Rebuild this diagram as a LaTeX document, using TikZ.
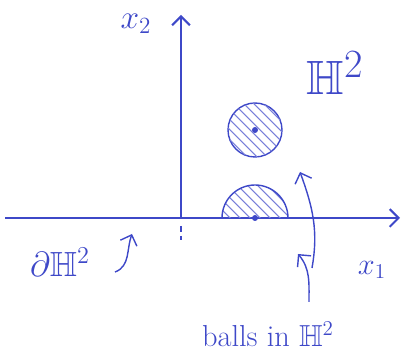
\documentclass[tikz,border=0pt]{standalone}
\usepackage{amsmath}
\usepackage{amssymb}
\usetikzlibrary{arrows.meta}
\definecolor{ink}{RGB}{62,72,200}
\begin{document}
\begin{tikzpicture}[x=0.02cm, y=0.02cm,
  axis/.style={draw=ink, line width=1.2pt, -{Straight Barb[length=5pt]}},
  ball/.style={circle, draw=ink, line width=0.8pt, minimum size=1.08cm},
  hatch/.style={draw=ink!70, line width=0.6pt},
  ctr/.style={circle, fill=ink, inner sep=1.2pt},
  lbl/.style={text=ink, font=\LARGE},
  arr/.style={->, line width=0.8pt, draw=ink, >={Straight Barb[length=5pt]}}
]
  \useasboundingbox (0,0) rectangle (403,358);
  % axes
  \coordinate (west) at (5,140);
  \coordinate (east) at (400,140);
  \coordinate (orig) at (181,140);
  \coordinate (north) at (181,343);
  \draw[axis] (west) -- (east);
  \draw[axis] (orig) -- (north);
  \draw[ink, line width=0.8pt] (orig) ++(0,-8) -- ++(0,-6) ++(0,-4) -- ++(0,-4);
  \node[lbl, scale=1.1] (xtwo) at (136,334) {$x_2$};
  \node[lbl] (xone) at (372,88) {$x_1$};
  \node[text=ink, font=\Huge, scale=1.1] (hyp) at (335,285) {$\mathbb{H}^2$};
  \node[text=ink, font=\LARGE, scale=1.15] (bdry) at (60,96) {$\partial\mathbb{H}^2$};
  % balls
  \node[ball] (ballA) at (255,228) {};
  \begin{scope}
    \clip (255,228) circle (27);
    \foreach \d in {-55,-45,...,55}
      \draw[hatch] (255+\d-40,228+40) -- (255+\d+40,228-40);
  \end{scope}
  \node[ctr] (cA) at (ballA.center) {};
  \coordinate (cB) at (255,140);
  \begin{scope}
    \clip (222,140) arc[start angle=180, end angle=0, radius=33] -- cycle;
    \foreach \d in {-65,-55,...,65}
      \draw[hatch] (255+\d-45,140+45) -- (255+\d+45,140-45);
  \end{scope}
  \draw[draw=ink, line width=0.8pt]
    (222,140) arc[start angle=180, end angle=0, radius=33];
  \node[ctr] at (cB) {};
  % arrows
  \coordinate (tailA) at (115,86);
  \coordinate (tipA) at (132,124);
  \draw[arr] (tailA) to[out=20, in=-110] (tipA);
  \node[text=ink, font=\LARGE] (caption) at (268,24) {balls in $\mathbb{H}^2$};
  \coordinate (tailB) at (312,90);
  \coordinate (tipB) at (300,186);
  \draw[arr] (tailB) to[out=80, in=-70] (tipB);
  \coordinate (tailC) at (309,56);
  \coordinate (tipC) at (298,104);
  \draw[arr] (tailC) to[out=90, in=-50] (tipC);
\end{tikzpicture}
\end{document}
